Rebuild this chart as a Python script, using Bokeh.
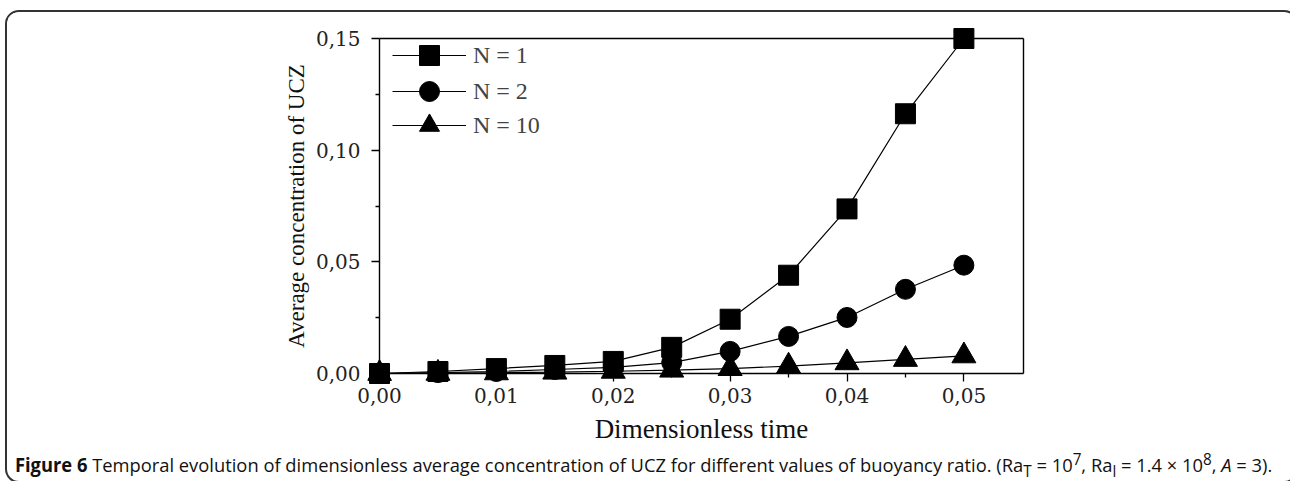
from bokeh.plotting import figure
from bokeh.models import (Range1d, FixedTicker, Legend, LegendItem, Div, ColumnDataSource,
                          LinearAxis)
from bokeh.layouts import column
from bokeh.embed import file_html
from bokeh.resources import INLINE

# Dimensionless time samples
t = [0.000, 0.005, 0.010, 0.015, 0.020, 0.025, 0.030, 0.035, 0.040, 0.045, 0.050]

# Average concentration of the upper convective zone for each buoyancy ratio
c_n1 = [0.0000, 0.0009, 0.0022, 0.0036, 0.0054, 0.0117, 0.0243, 0.0440, 0.0737, 0.1163, 0.1500]
c_n2 = [0.0000, 0.0004, 0.0009, 0.0018, 0.0027, 0.0049, 0.0099, 0.0166, 0.0251, 0.0377, 0.0485]
c_n10 = [0.0000, 0.0001, 0.0003, 0.0006, 0.0010, 0.0015, 0.0022, 0.0033, 0.0048, 0.0063, 0.0079]

series_labels = ["N = 1", "N = 2", "N = 10"]
series_markers = ["square", "circle", "triangle"]

x_ticks = [0.00, 0.01, 0.02, 0.03, 0.04, 0.05]
x_minor = [0.005, 0.015, 0.025, 0.035, 0.045]
y_ticks = [0.00, 0.05, 0.10, 0.15]
y_minor = [0.025, 0.075, 0.125]

SERIF = "Liberation Serif"
TICK_FONT = "DejaVu Serif"

# axis box in data units; the plotting frame is padded around it so that
# markers sitting on the box edges are drawn whole
X_MAX, Y_MAX = 0.0551, 0.15
BOX_W, BOX_H, PAD = 644, 335, 12
pad_x = X_MAX * PAD / BOX_W
pad_y = Y_MAX * PAD / BOX_H

FIG_W, FIG_H = 1279, 445
LEFT, TOP = 372 - PAD, 26 - PAD
p = figure(width=FIG_W, height=FIG_H, output_backend="svg", toolbar_location=None,
           x_axis_location=None, y_axis_location=None,
           x_range=Range1d(-pad_x, X_MAX + pad_x), y_range=Range1d(-pad_y, Y_MAX + pad_y),
           min_border_left=LEFT, min_border_right=FIG_W - (LEFT + BOX_W + 2 * PAD),
           min_border_top=TOP, min_border_bottom=FIG_H - (TOP + BOX_H + 2 * PAD))
p.grid.visible = False
p.outline_line_color = None
p.background_fill_color = "white"
p.border_fill_color = "white"

renderers = []
for vals, marker in zip([c_n1, c_n2, c_n10], series_markers):
    src = ColumnDataSource(dict(x=t, y=vals))
    ln = p.line("x", "y", source=src, line_color="black", line_width=1.2)
    size = 24 if marker == "triangle" else 20
    sc = p.scatter("x", "y", source=src, marker=marker, size=size,
                   fill_color="black", line_color="black")
    renderers.append((ln, sc))

# tick labels and titles, in the bottom and left panels (no rules of their own)
def label_axis(ticks, standoff, title, title_size, title_standoff):
    ax = LinearAxis(ticker=FixedTicker(ticks=ticks),
                    major_label_overrides={v: "{:.2f}".format(v).replace(".", ",") for v in ticks},
                    axis_line_color=None, major_tick_line_color=None, minor_tick_line_color=None,
                    major_tick_in=0, major_tick_out=0, minor_tick_in=0, minor_tick_out=0,
                    major_label_standoff=standoff, major_label_text_font=TICK_FONT,
                    major_label_text_font_size="20px", major_label_text_color="#222222",
                    axis_label=title, axis_label_text_font=SERIF,
                    axis_label_text_font_style="normal", axis_label_text_color="#111111",
                    axis_label_text_font_size=title_size, axis_label_standoff=title_standoff)
    return ax

p.add_layout(label_axis(x_ticks, 2, "Dimensionless time", "27px", 8), "below")
p.add_layout(label_axis(y_ticks, 7, "Average concentration of UCZ", "23px", 4), "left")

# the axis box: rules and ticks placed on its edges; the bottom and left rules
# live in the opposite panels, so their ticks point outward with tick_in
for loc, fixed, bnds, ticks, minor in [("above", 0, (0, X_MAX), x_ticks, x_minor),
                                       ("above", Y_MAX, (0, X_MAX), [], []),
                                       ("right", 0, (0, Y_MAX), y_ticks, y_minor),
                                       ("right", X_MAX, (0, Y_MAX), [], [])]:
    tick_len = 8 if ticks else 0
    rule = LinearAxis(fixed_location=fixed, bounds=bnds,
                      ticker=FixedTicker(ticks=ticks, minor_ticks=minor),
                      axis_line_color="black", axis_line_width=1.4,
                      major_tick_line_color="black", minor_tick_line_color="black",
                      major_tick_line_width=1.3, minor_tick_line_width=1.3,
                      major_tick_in=tick_len, major_tick_out=0,
                      minor_tick_in=tick_len // 2, minor_tick_out=0,
                      major_label_standoff=0, major_label_text_font_size="0px",
                      major_label_text_color=None)
    p.add_layout(rule, loc)

# one legend per row so the rows can sit closer than the glyph box height
row_offsets = [305, 269, 235]
for lab, r, off in zip(series_labels, renderers, row_offsets):
    lg = Legend(items=[LegendItem(label=lab, renderers=list(r))], location=(13 + PAD, off),
                margin=0, padding=0, glyph_width=74, glyph_height=50, label_height=50,
                label_standoff=7, label_text_font=SERIF, label_text_font_size="24px",
                background_fill_alpha=0, border_line_color=None)
    p.add_layout(lg, "center")

flat = "style='line-height:0'"
caption = Div(
    text=("<span style='font-weight:700'>Figure 6</span> Temporal evolution of dimensionless average "
          "concentration of UCZ for different values of buoyancy ratio. "
          f"(Ra<sub {flat}>T</sub> = 10<sup {flat}>7</sup>, Ra<sub {flat}>l</sub> = 1.4 &times; "
          f"10<sup {flat}>8</sup>, <i>A</i> = 3)."),
    width=FIG_W, height=32,
    styles={"font-family": "'Open Sans', sans-serif", "font-size": "19px", "color": "#111111",
            "white-space": "nowrap", "transform": "scaleX(0.965)", "transform-origin": "left top",
            "padding-left": "3px", "padding-top": "10px", "line-height": "22px",
            "margin-top": "-13px", "box-sizing": "border-box"},
)

layout = column(p, caption, spacing=0,
                styles={"border": "2px solid #333333", "border-radius": "14px",
                        "margin-left": "5px", "margin-top": "10px", "overflow": "hidden",
                        "background": "white"})

open("out.html", "w").write(file_html(layout, INLINE))
